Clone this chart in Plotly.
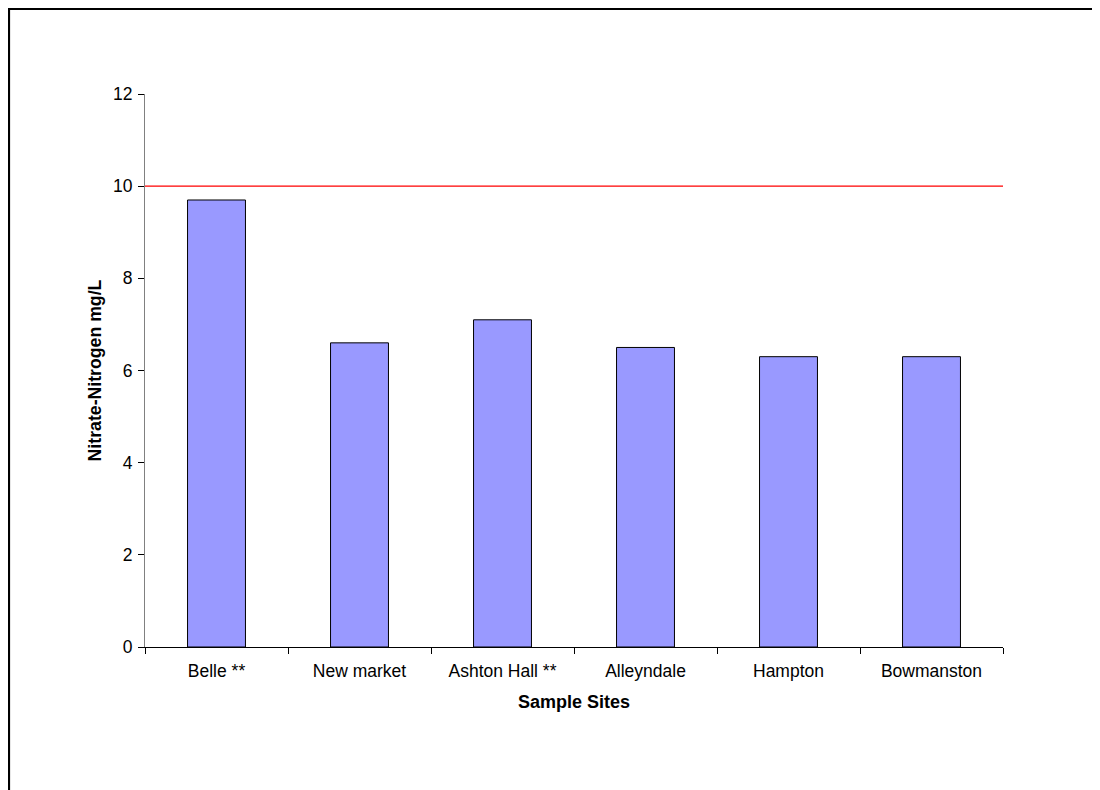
import plotly.graph_objects as go

sites = ["Belle **", "New market", "Ashton Hall **", "Alleyndale", "Hampton", "Bowmanston"]
nitrate = [9.7, 6.6, 7.1, 6.5, 6.3, 6.3]
limit = 10
y_ticks = [0, 2, 4, 6, 8, 10, 12]

# page has an 8px body margin; figure sized to end at the window edge
W, H = 1092, 782
L, T = 137, 86
pw, ph = 858, 553
R, B = W - L - pw, H - T - ph

def px_x(p):
    return (p - L) / pw

def px_y(p):
    return (H - B - p) / ph

font = "Liberation Sans, Arial, sans-serif"

fig = go.Figure()
fig.add_trace(go.Bar(
    x=sites, y=nitrate,
    marker=dict(color="#9999FF", line=dict(color="#000000", width=1)),
    width=0.405,
    showlegend=False,
))

fig.add_shape(type="line", xref="x domain", yref="y", x0=0, x1=1, y0=limit, y1=limit,
              line=dict(color="#FF0000", width=1.2), layer="above")

# outer chart border (extends beyond right/bottom of the view)
fig.add_shape(type="rect", xref="paper", yref="paper",
              x0=px_x(1), x1=px_x(W + 10), y0=px_y(H + 10), y1=px_y(1),
              line=dict(color="#000000", width=2.2), fillcolor="rgba(0,0,0,0)", layer="above")

fig.update_layout(
    width=W, height=H,
    margin=dict(l=L, r=R, t=T, b=B, pad=0),
    paper_bgcolor="white", plot_bgcolor="white",
    font=dict(family=font, size=17.5, color="#000000"),
    bargap=0.6,
)
fig.update_xaxes(
    type="category",
    showline=True, linecolor="#000000", linewidth=1,
    ticks="outside", tickson="boundaries", ticklen=6, tickcolor="#000000",
    showgrid=False, zeroline=False,
    tickfont=dict(size=17.5), ticklabelstandoff=8,
    title=dict(text="<b>Sample Sites</b>", font=dict(size=18), standoff=15),
)
fig.update_yaxes(
    range=[0, 12], tickvals=y_ticks,
    showline=True, linecolor="#808080", linewidth=1,
    ticks="outside", ticklen=6, tickcolor="#000000",
    showgrid=False, zeroline=False,
    tickfont=dict(size=17.5), ticklabelstandoff=2,
    title=dict(text="<b>Nitrate-Nitrogen mg/L</b>", font=dict(size=17.7), standoff=6),
)

fig.write_html("out.html")
